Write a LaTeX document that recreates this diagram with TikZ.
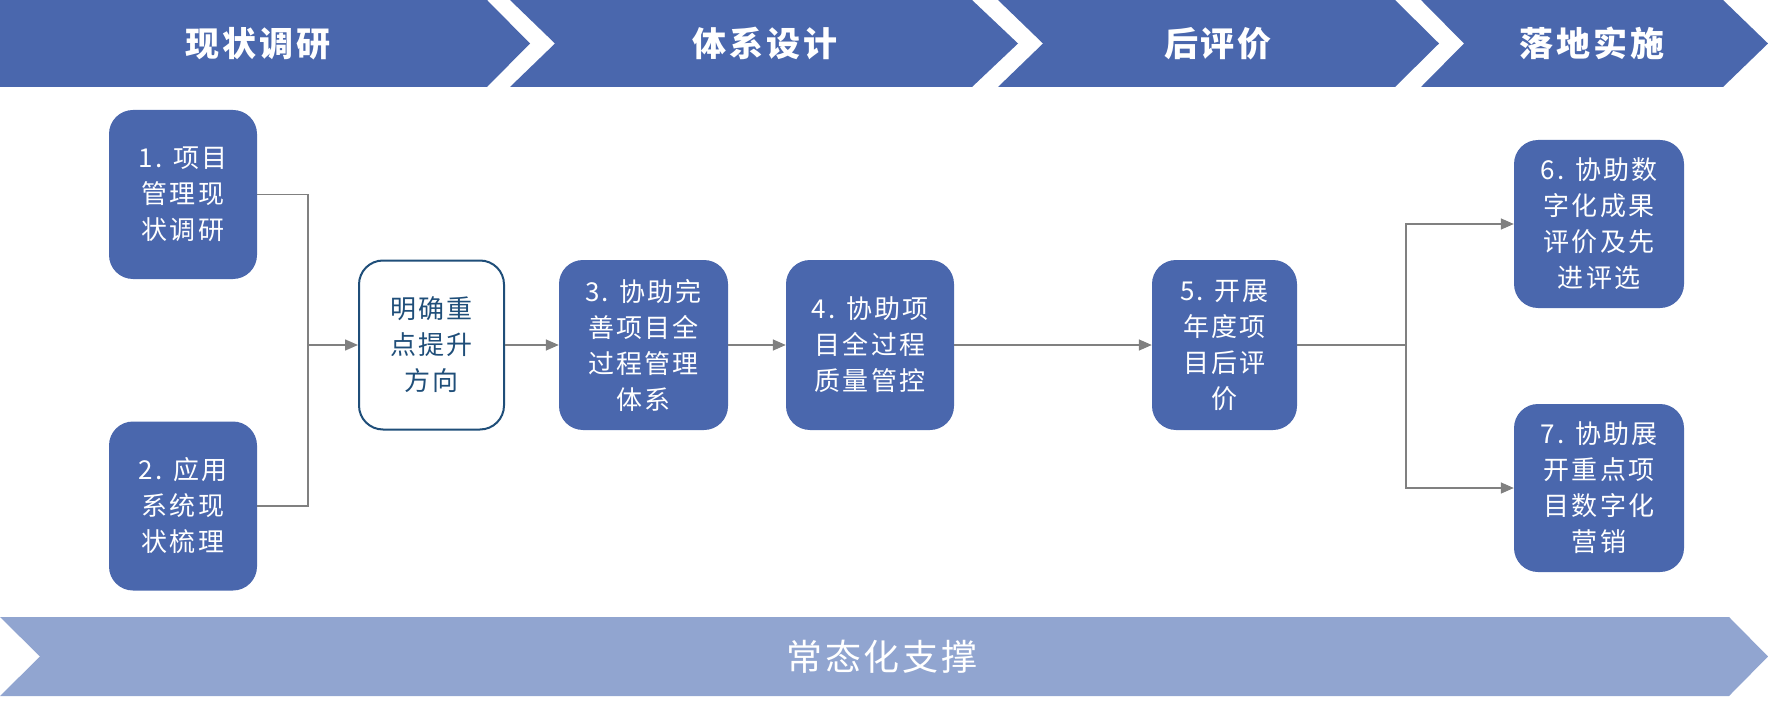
\documentclass[tikz,border=0pt]{standalone}
\usepackage{fontspec}
\setmainfont{Noto Sans CJK SC}
\newfontfamily\cjk{Noto Sans CJK SC}
\newfontfamily\cjkspaced[LetterSpace=8]{Noto Sans CJK SC}
\usetikzlibrary{arrows.meta}
\definecolor{boxblue}{RGB}{74,103,173}
\definecolor{lightbar}{RGB}{145,165,208}
\definecolor{darkline}{RGB}{31,78,121}
\definecolor{conn}{RGB}{128,128,128}
\tikzset{
  stepbox/.style={rectangle, rounded corners=24pt, fill=boxblue, text=white, align=center,
    inner sep=0pt, font=\cjkspaced\fontsize{26}{36}\selectfont},
  whitebox/.style={rectangle, rounded corners=24pt, fill=white, draw=darkline, line width=2pt,
    text=darkline, align=center, inner sep=0pt, font=\cjkspaced\fontsize{26}{36}\selectfont},
  headtext/.style={text=white, font=\cjkspaced\bfseries\fontsize{34}{40}\selectfont},
  bartext/.style={text=white, font=\cjkspaced\fontsize{36}{40}\selectfont},
  link/.style={draw=conn, line width=1.5pt},
  arrowlink/.style={link, -{Triangle[length=13pt,width=11pt]}},
}
\begin{document}
\begin{tikzpicture}[x=1pt,y=-1pt]
\useasboundingbox (0,0) rectangle (1768,703);
% top chevrons
\fill[boxblue] (0,0) -- (487,0) -- (530,43.5) -- (487,87) -- (0,87) -- cycle;
\fill[boxblue] (510,0) -- (972,0) -- (1018,43.5) -- (972,87) -- (510,87) -- (555,43.5) -- cycle;
\fill[boxblue] (998,0) -- (1395,0) -- (1439,43.5) -- (1395,87) -- (998,87) -- (1043,43.5) -- cycle;
\fill[boxblue] (1421,0) -- (1723,0) -- (1768,43.5) -- (1723,87) -- (1421,87) -- (1464,43.5) -- cycle;
\node[headtext] (h1) at (258,43.5) {现状调研};
\node[headtext] (h2) at (765,43.5) {体系设计};
\node[headtext] (h3) at (1218,43.5) {后评价};
\node[headtext] (h4) at (1592,43.5) {落地实施};
% bottom bar
\fill[lightbar] (0,617) -- (1729,617) -- (1768,656.5) -- (1729,696) -- (0,696) -- (40,656.5) -- cycle;
\node[bartext] (bar) at (882,656.5) {常态化支撑};
% boxes
\node[stepbox, minimum width=148pt, minimum height=169pt] (b1) at (183,194.5) {1. 项目\\管理现\\状调研};
\node[stepbox, minimum width=148pt, minimum height=169pt] (b2) at (183,506) {2. 应用\\系统现\\状梳理};
\node[whitebox, minimum width=145pt, minimum height=169pt] (m) at (431.5,345) {明确重\\点提升\\方向};
\node[stepbox, minimum width=169pt, minimum height=170pt] (b3) at (643.5,345) {3. 协助完\\善项目全\\过程管理\\体系};
\node[stepbox, minimum width=168pt, minimum height=170pt] (b4) at (870,345) {4. 协助项\\目全过程\\质量管控};
\node[stepbox, minimum width=145pt, minimum height=170pt] (b5) at (1224.5,345) {5. 开展\\年度项\\目后评\\价};
\node[stepbox, minimum width=170pt, minimum height=168pt] (b6) at (1599,224) {6. 协助数\\字化成果\\评价及先\\进评选};
\node[stepbox, minimum width=170pt, minimum height=168pt] (b7) at (1599,488) {7. 协助展\\开重点项\\目数字化\\营销};
% connectors
\coordinate (j1) at (308,345);
\coordinate (j2) at (1406,345);
\draw[link] (b1.east) -| (j1);
\draw[link] (b2.east) -| (j1);
\draw[arrowlink] (j1) -- (m.west);
\draw[arrowlink] (m.east) -- (b3.west);
\draw[arrowlink] (b3.east) -- (b4.west);
\draw[arrowlink] (b4.east) -- (b5.west);
\draw[link] (b5.east) -- (j2);
\draw[arrowlink] (j2) |- (b6.west);
\draw[arrowlink] (j2) |- (b7.west);
\end{tikzpicture}
\end{document}
